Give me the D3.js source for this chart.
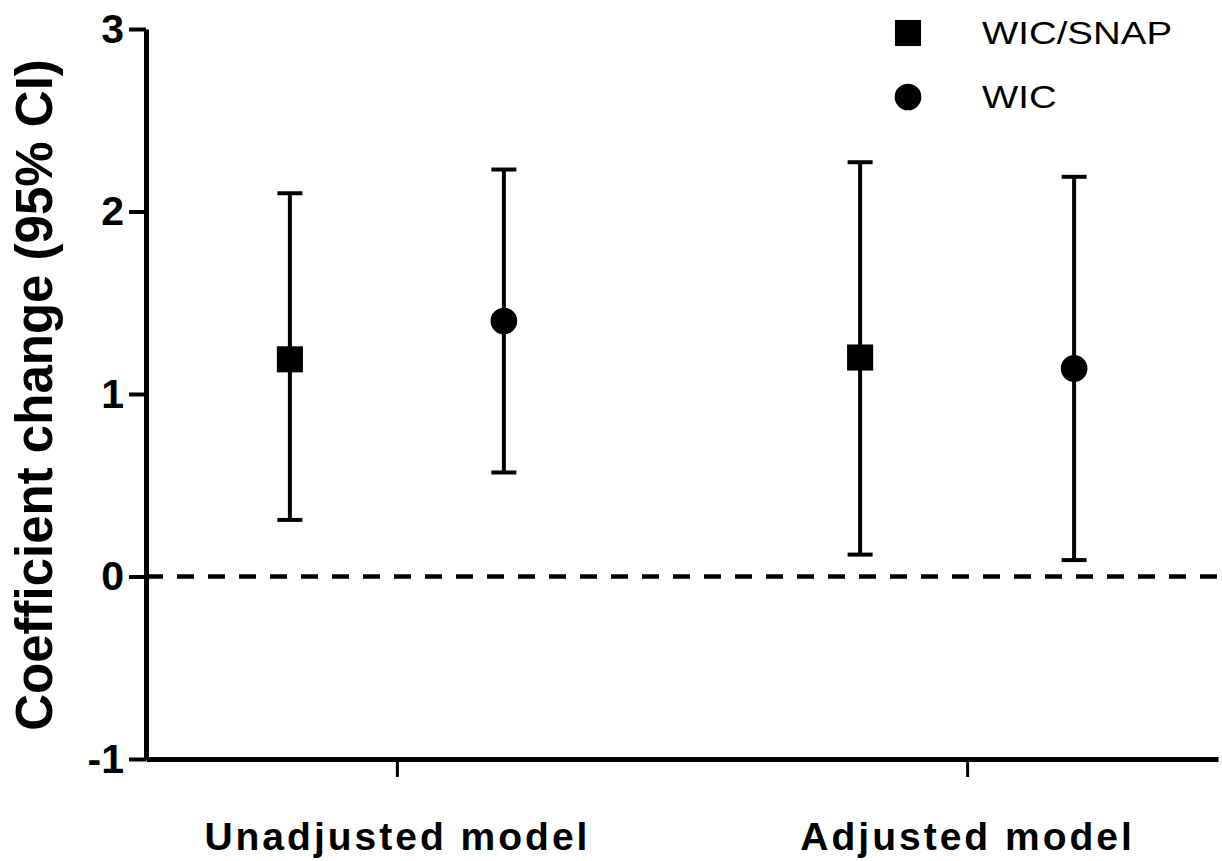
<!DOCTYPE html>
<html>
<head>
<meta charset="utf-8">
<script src="https://cdn.jsdelivr.net/npm/d3@7"></script>
<style>
  body { margin: 0; background: #fff; }
  text { font-family: "Liberation Sans", Arial, sans-serif; fill: #000; }
</style>
</head>
<body>
<div id="chart"></div>
<script>
var models = ["Unadjusted model", "Adjusted model"];
var series = ["WIC/SNAP", "WIC"];
var estimates = { "WIC/SNAP": [1.19, 1.20], "WIC": [1.40, 1.14] };
var lowerCI = { "WIC/SNAP": [0.31, 0.12], "WIC": [0.57, 0.09] };
var upperCI = { "WIC/SNAP": [2.10, 2.27], "WIC": [2.23, 2.19] };
var yTicks = [-1, 0, 1, 2, 3];

var width = 1222,
    height = 861;

var svg = d3.select("#chart").append("svg")
    .attr("width", width)
    .attr("height", height);

var x = d3.scalePoint()
    .domain(models)
    .range([146, 1218])
    .padding(0.44);

var offset = d3.scalePoint()
    .domain(series)
    .range([-107, 107]);

var y = d3.scaleLinear()
    .domain([-1, 3])
    .range([759, 29]);

// rows for the points, one per model and series
var points = [];
series.forEach(function (s) {
    models.forEach(function (m, i) {
        points.push({ series: s, model: m, est: estimates[s][i], lo: lowerCI[s][i], hi: upperCI[s][i] });
    });
});

// zero reference line
svg.append("line")
    .attr("x1", x.range()[0])
    .attr("x2", x.range()[1])
    .attr("y1", y(0))
    .attr("y2", y(0))
    .style("stroke", "#000")
    .style("stroke-width", 4.5)
    .style("stroke-dasharray", "17,14");

// y axis
var yAxis = svg.append("g")
    .attr("transform", "translate(146,0)")
    .call(d3.axisLeft(y).tickValues(yTicks).tickSize(17).tickPadding(5).tickSizeOuter(0).tickFormat(d3.format("d")));

yAxis.select(".domain").style("stroke-width", 5);
yAxis.selectAll(".tick line").style("stroke-width", 4);
yAxis.selectAll(".tick text")
    .style("font-size", "41px")
    .style("font-weight", "bold")
    .text(function (d) { return d < 0 ? "-" + Math.abs(d) : d; });

// x axis
var xAxis = svg.append("g")
    .attr("transform", "translate(0,759)")
    .call(d3.axisBottom(x).tickSize(18).tickSizeOuter(0).tickFormat(""));

xAxis.select(".domain").style("stroke-width", 5);
xAxis.selectAll(".tick line").style("stroke-width", 3);

xAxis.selectAll(".tick").append("text")
    .attr("y", 91)
    .attr("text-anchor", "middle")
    .style("font-size", "39px")
    .style("font-weight", "bold")
    .style("letter-spacing", "3px")
    .style("fill", "#000")
    .text(function (d) { return d; });

// y axis title
svg.append("text")
    .attr("transform", "translate(52," + 395 + ") rotate(-90)")
    .attr("text-anchor", "middle")
    .style("font-size", "51px")
    .style("font-weight", "bold")
    .text("Coefficient change (95% CI)");

// error bars
var bars = svg.selectAll(".bar")
    .data(points)
    .enter().append("g")
    .attr("class", "bar")
    .attr("transform", function (d) { return "translate(" + (x(d.model) + offset(d.series)) + ",0)"; });

bars.append("line")
    .attr("x1", 0).attr("x2", 0)
    .attr("y1", function (d) { return y(d.lo); })
    .attr("y2", function (d) { return y(d.hi); })
    .style("stroke", "#000")
    .style("stroke-width", 4);

bars.selectAll(".cap")
    .data(function (d) { return [d.lo, d.hi]; })
    .enter().append("line")
    .attr("class", "cap")
    .attr("x1", -12.5).attr("x2", 12.5)
    .attr("y1", function (d) { return y(d); })
    .attr("y2", function (d) { return y(d); })
    .style("stroke", "#000")
    .style("stroke-width", 4);

var symbolFor = function (s) { return s === "WIC" ? d3.symbolCircle : d3.symbolSquare; };

bars.append("path")
    .attr("transform", function (d) { return "translate(0," + y(d.est) + ")"; })
    .attr("d", function (d) { return d3.symbol().type(symbolFor(d.series)).size(d.series === "WIC" ? 560 : 680)(); })
    .style("fill", "#000");

// legend
var legend = svg.selectAll(".legend")
    .data(series)
    .enter().append("g")
    .attr("class", "legend")
    .attr("transform", function (d, i) { return "translate(908," + (33 + i * 64) + ")"; });

legend.append("path")
    .attr("d", function (d) { return d3.symbol().type(symbolFor(d)).size(d === "WIC" ? 560 : 680)(); })
    .style("fill", "#000");

legend.append("text")
    .attr("transform", "translate(74,11) scale(1.24,1)")
    .style("font-size", "31px")
    .text(function (d) { return d; });
</script>
</body>
</html>
